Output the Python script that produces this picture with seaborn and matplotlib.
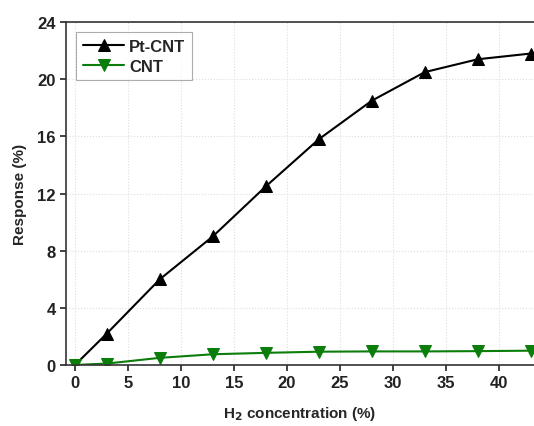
import numpy as np
import pandas as pd
import seaborn as sns
import matplotlib.pyplot as plt

conc = [0, 3, 8, 13, 18, 23, 28, 33, 38, 43]
pt_cnt = [0.0, 2.2, 6.0, 9.0, 12.5, 15.8, 18.5, 20.5, 21.4, 21.8]
cnt = [0.0, 0.1, 0.5, 0.75, 0.85, 0.93, 0.95, 0.95, 0.97, 1.0]

x_ticks = [0, 5, 10, 15, 20, 25, 30, 35, 40]
y_ticks = [0, 4, 8, 12, 16, 20, 24]


def main():
    sns.set_style("white")
    plt.rcParams['font.family'] = ['Liberation Sans', 'DejaVu Sans']
    plt.rcParams['font.weight'] = 'bold'

    data = pd.DataFrame({
        "conc": conc * 2,
        "response": pt_cnt + cnt,
        "sample": ["Pt-CNT"] * len(conc) + ["CNT"] * len(conc),
    })

    fig = plt.figure(figsize=(5.34, 4.27), dpi=100)
    ax = fig.add_axes([0.1236, 0.1429, 0.8764, 0.803])

    ax = sns.lineplot(x="conc", y="response", hue="sample", style="sample",
                      data=data, ax=ax,
                      palette={"Pt-CNT": "black", "CNT": "#0a7d0a"},
                      markers={"Pt-CNT": "^", "CNT": "v"},
                      dashes=False, markersize=9, linewidth=1.5)
    for line in ax.lines:
        line.set_markeredgecolor(line.get_color())

    ax.set_xlim(-0.85, 43.3)
    ax.set_ylim(0, 24)
    ax.set_xticks(x_ticks)
    ax.set_yticks(y_ticks)
    ax.grid(True, color="#dddddd", linestyle=":", linewidth=0.8)
    ax.spines["right"].set_visible(False)
    for s in ["left", "bottom", "top"]:
        ax.spines[s].set_color("#333333")
        ax.spines[s].set_linewidth(1.2)
    ax.tick_params(axis="both", direction="out", length=4, width=1.2,
                   labelsize=12, left=True, bottom=True, colors="#222222")

    ax.set_xlabel("H$_2$ concentration (%)", fontsize=11, fontweight="bold", labelpad=10)
    ax.set_ylabel("Response (%)", fontsize=11, fontweight="bold", labelpad=7)

    leg = ax.legend(loc="upper left", fontsize=12, frameon=True, fancybox=False,
                    edgecolor="#999999", handlelength=2.5, handletextpad=0.3,
                    borderaxespad=0.6, labelspacing=0.3)
    leg.get_frame().set_linewidth(0.8)

    plt.savefig("out.png", dpi=100)


if __name__ == '__main__':
    main()
